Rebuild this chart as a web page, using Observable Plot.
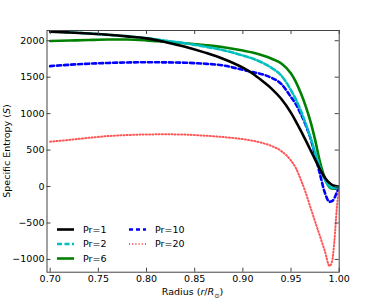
<!DOCTYPE html>
<html>
<head>
<meta charset="utf-8">
<script src="https://cdn.jsdelivr.net/npm/d3@7"></script>
<script src="https://cdn.jsdelivr.net/npm/@observablehq/plot@0.6"></script>
<style>
  html, body { margin: 0; padding: 0; background: #fff; }
  #wrap { position: relative; width: 376px; height: 304px; font-family: "DejaVu Sans", sans-serif; color: #000; }
  #wrap svg.plot { position: absolute; left: 0; top: 0; }
  .lab { position: absolute; font-size: 9.5px; white-space: nowrap; }
  #ylab { left: 6px; top: 151px; transform: translate(-50%, -50%) rotate(-90deg); }
  #xlab { left: 192.6px; top: 293px; transform: translate(-50%, -50%); }
  #legend { position: absolute; left: 0; top: 0; pointer-events: none; }
</style>
</head>
<body>
<div id="wrap"></div>
<script>
// ---- data ----
const radius = [0.70, 0.72, 0.74, 0.76, 0.78, 0.80, 0.82, 0.84, 0.86, 0.88, 0.90, 0.91, 0.92, 0.93, 0.94, 0.95, 0.955, 0.96, 0.965, 0.97, 0.975, 0.98, 0.985, 0.99, 0.9925, 0.995, 0.9975, 1.0];
const seriesNames = ["Pr=1", "Pr=2", "Pr=6", "Pr=10", "Pr=20"];
const entropyPr1  = [2125, 2112, 2098, 2082, 2060, 2032, 1980, 1918, 1840, 1750, 1630, 1550, 1450, 1340, 1200, 1010, 895, 770, 640, 505, 370, 240, 125, 48, 24, 10, 3, 0];
const entropyPr2  = [2130, 2115, 2100, 2080, 2060, 2035, 2000, 1965, 1920, 1868, 1797, 1755, 1700, 1625, 1520, 1320, 1195, 1045, 870, 680, 470, 265, 95, 0, -18, -22, -12, 0];
const entropyPr6  = [1995, 2002, 2010, 2016, 2016, 2005, 1985, 1965, 1940, 1910, 1865, 1838, 1800, 1752, 1688, 1550, 1435, 1285, 1110, 900, 640, 340, 120, -10, -26, -30, -20, 0];
const entropyPr10 = [1652, 1670, 1685, 1695, 1702, 1704, 1703, 1698, 1685, 1660, 1600, 1570, 1540, 1490, 1405, 1226, 1130, 1000, 850, 670, 430, 171, -80, -210, -200, -160, -80, 0];
const entropyPr20 = [615, 640, 668, 692, 706, 714, 716, 712, 698, 678, 650, 628, 598, 555, 485, 355, 255, 100, -75, -280, -480, -680, -880, -1090, -1030, -750, -300, 0];
const xTicks = [0.70, 0.75, 0.80, 0.85, 0.90, 0.95, 1.00];
const yTicks = [-1000, -500, 0, 500, 1000, 1500, 2000];

// ---- styles ----
const styles = {
  "Pr=1":  {stroke: "#000000", strokeWidth: 2.6, dash: null, opacity: 1},
  "Pr=2":  {stroke: "#00bfbf", strokeWidth: 2.6, dash: "5,2.5", opacity: 1},
  "Pr=6":  {stroke: "#008000", strokeWidth: 2.6, dash: null, opacity: 1},
  "Pr=10": {stroke: "#0000ff", strokeWidth: 2.6, dash: "4,3", opacity: 1},
  "Pr=20": {stroke: "#ff2a2a", strokeWidth: 2, dash: "1,2.2", opacity: 0.8}
};

const allSeries = [entropyPr1, entropyPr2, entropyPr6, entropyPr10, entropyPr20];
const rows = [];
seriesNames.forEach((name, i) => {
  radius.forEach((r, j) => rows.push({name, r, s: allSeries[i][j]}));
});

const W = 376, H = 304;
const mL = 46.5, mR = 37.3, mT = 30, mB = 32.3;
const innerH = H - mT - mB, innerW = W - mL - mR;
const tickLen = 4;
const font = "DejaVu Sans";

const drawOrder = ["Pr=20", "Pr=10", "Pr=6", "Pr=2", "Pr=1"];
const lineMarks = drawOrder.map(name => {
  const st = styles[name];
  return Plot.line(rows.filter(d => d.name === name), {
    x: "r", y: "s", curve: "monotone-x",
    stroke: st.stroke, strokeWidth: st.strokeWidth,
    strokeDasharray: st.dash, strokeOpacity: st.opacity, clip: true
  });
});

const chart = Plot.plot({
  width: W, height: H,
  marginLeft: mL, marginRight: mR, marginTop: mT, marginBottom: mB,
  style: {fontFamily: font, fontSize: "9.5px", color: "#000", background: "transparent"},
  x: {domain: [0.6967, 1.0]},
  y: {domain: [-1175, 2140]},
  marks: [
    ...lineMarks,
    Plot.frame({stroke: "#444", strokeWidth: 1}),
    Plot.tickX(xTicks, {x: d => d, insetTop: innerH - tickLen, stroke: "#444"}),
    Plot.tickX(xTicks, {x: d => d, insetBottom: innerH - tickLen, stroke: "#444"}),
    Plot.tickY(yTicks, {y: d => d, insetRight: innerW - tickLen, stroke: "#444"}),
    Plot.tickY(yTicks, {y: d => d, insetLeft: innerW - tickLen, stroke: "#444"}),
    Plot.axisX(xTicks, {tickSize: 0, tickPadding: 3, tickFormat: d3.format(".2f"), label: null, fill: "#000", fontSize: 9.5}),
    Plot.axisY(yTicks, {tickSize: 0, tickPadding: 2.5, tickFormat: d3.format("d"), label: null, fill: "#000", fontSize: 9.5})
  ]
});
chart.classList.add("plot");
const wrap = document.getElementById("wrap");
wrap.appendChild(chart);

const yl = document.createElement("div");
yl.className = "lab"; yl.id = "ylab";
yl.innerHTML = 'Specific Entropy (<i>S</i>)';
wrap.appendChild(yl);
const xl = document.createElement("div");
xl.className = "lab"; xl.id = "xlab";
xl.innerHTML = 'Radius (<i>r</i>/<i>R</i><sub style="font-size:6.5px">\u2299</sub>)';
wrap.appendChild(xl);

const legendCols = [["Pr=1", "Pr=2", "Pr=6"], ["Pr=10", "Pr=20"]];
const ns = "http://www.w3.org/2000/svg";
const lg = document.createElementNS(ns, "svg");
lg.setAttribute("id", "legend");
lg.setAttribute("width", W); lg.setAttribute("height", H);
const colX = [57, 129], textX = [83, 155];
const rowY = [229.5, 244, 258.5];
legendCols.forEach((col, ci) => {
  col.forEach((name, ri) => {
    const st = styles[name];
    const ln = document.createElementNS(ns, "line");
    ln.setAttribute("x1", colX[ci]); ln.setAttribute("x2", colX[ci] + 17);
    ln.setAttribute("y1", rowY[ri]); ln.setAttribute("y2", rowY[ri]);
    ln.setAttribute("stroke", st.stroke); ln.setAttribute("stroke-width", st.strokeWidth);
    ln.setAttribute("stroke-opacity", st.opacity);
    if (st.dash) ln.setAttribute("stroke-dasharray", st.dash);
    lg.appendChild(ln);
    const tx = document.createElementNS(ns, "text");
    tx.setAttribute("x", textX[ci]); tx.setAttribute("y", rowY[ri]);
    tx.setAttribute("dy", "0.35em");
    tx.setAttribute("font-family", font); tx.setAttribute("font-size", "9.5px");
    tx.textContent = name;
    lg.appendChild(tx);
  });
});
wrap.appendChild(lg);
</script>
</body>
</html>
